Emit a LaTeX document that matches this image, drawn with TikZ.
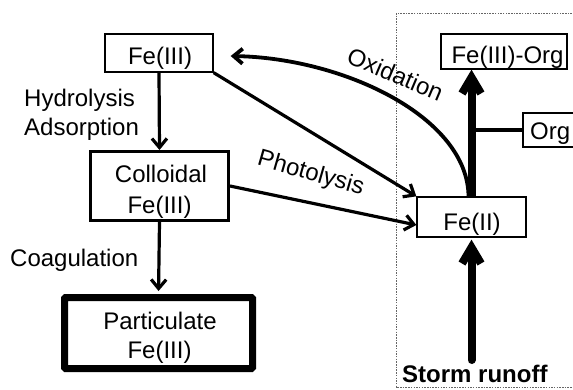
\documentclass[tikz,border=0pt]{standalone}
\usepackage{fontspec}
\setmainfont{Liberation Sans}
\usetikzlibrary{arrows.meta}
\tikzset{
  boxthin/.style={draw, line width=1.3pt, inner sep=0pt},
  boxmid/.style={draw, line width=3pt, inner sep=0pt},
  boxthick/.style={draw, line width=7pt, inner sep=0pt, rounded corners=1pt},
  txt/.style={inner sep=0pt, anchor=base, font=\fontsize{24}{29}\selectfont},
  txtl/.style={inner sep=0pt, anchor=base west, font=\fontsize{24}{29}\selectfont},
  arr/.style={line width=3.2pt, -{Straight Barb[length=9pt,width=15pt]}},
  bigarr/.style={line width=8pt, line cap=round, -{Straight Barb[length=16pt,width=19pt]}},
}
\begin{document}
\begin{tikzpicture}[x=1pt,y=-1pt]
\useasboundingbox (0,0) rectangle (573,389);
\clip (0,0) rectangle (573,389);
% dotted region
\draw[gray!80!black, line width=0.8pt, dash pattern=on 1.5pt off 1.2pt] (396,13) rectangle (600,387);
% boxes
\node[boxthin, minimum width=108pt, minimum height=38pt] (fe3) at (159,53) {};
\node[boxmid, minimum width=138pt, minimum height=69pt] (coll) at (159.5,186) {};
\node[boxthick, minimum width=188pt, minimum height=71pt] (part) at (158.5,333) {};
\node[boxthin, minimum width=109pt, minimum height=40pt] (fe2) at (471.5,217) {};
\node[boxthin, minimum width=126pt, minimum height=35pt] (feorg) at (504,51.5) {};
\node[boxthin, minimum width=60pt, minimum height=34pt] (org) at (553,130) {};
% box texts
\node[txt] (tfe3) at (160,64.5) {Fe(III)};
\node[txt] (tcoll1) at (161,182) {Colloidal};
\node[txt] (tcoll2) at (159.5,213) {Fe(III)};
\node[txt] (tpart1) at (160,329) {Particulate};
\node[txt] (tpart2) at (159.5,358) {Fe(III)};
\node[txt] (tfe2) at (472,230.5) {Fe(II)};
\node[txt] (tfeorg) at (507.5,63.5) {Fe(III)-Org};
\node[txtl] (torg) at (530,139.5) {Org};
% labels
\node[txtl] (lhyd) at (24,106) {Hydrolysis};
\node[txtl] (lads) at (24,135) {Adsorption};
\node[txtl] (lcoag) at (10,266) {Coagulation};
\node[txt, rotate=-16] (lphot) at (309,180) {Photolysis};
\node[txt, rotate=-23] (loxi) at (392,82) {Oxidation};
\node[txtl, font=\fontsize{24}{29}\selectfont\bfseries] (lstorm) at (402,382) {Storm runoff};
% connectors
\draw[arr] (fe3.south) -- (coll.north);
\draw[arr, shorten >=3pt] (coll.south) -- (part.north);
\draw[arr] (fe3.south east) -- (fe2.north west);
\draw[arr] (coll.east) -- ([yshift=-8pt]fe2.west);
\draw[line width=3.8pt, -{Straight Barb[length=9pt,width=15pt]}]
  ([xshift=-3pt]fe2.north) .. controls (468,118) and (345,58) .. ([xshift=17pt,yshift=-3pt]fe3.east);
\draw[line width=3.5pt] (org.west) -- (org.west -| fe2.north);
\draw[bigarr, line cap=butt] (fe2.north) -- (fe2.north |- feorg.south);
\coordinate (storm) at (471.5,360);
\draw[bigarr, shorten >=2pt] (storm) -- (fe2.south);
\end{tikzpicture}
\end{document}
